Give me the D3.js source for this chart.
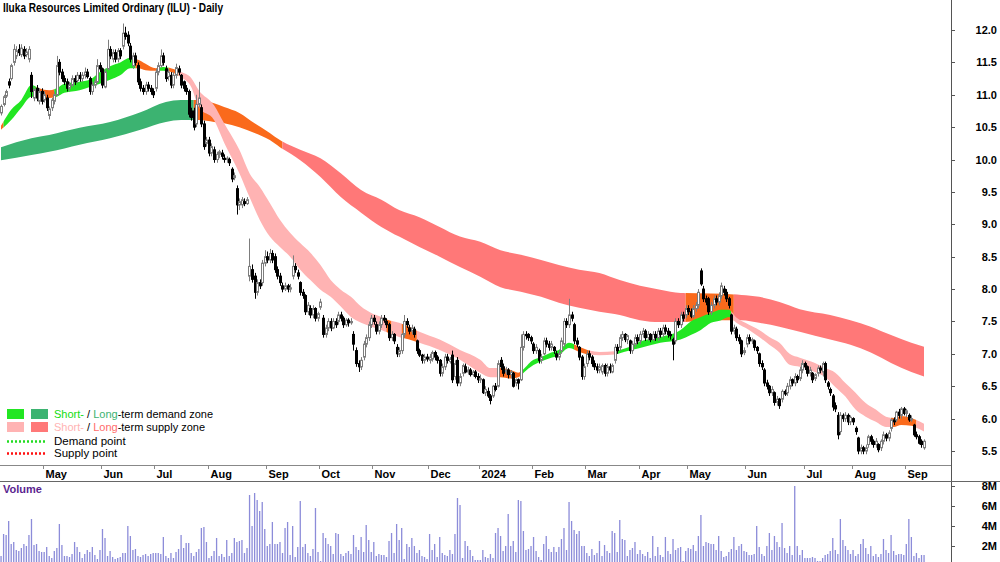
<!DOCTYPE html>
<html>
<head>
<meta charset="utf-8">
<script src="https://cdn.jsdelivr.net/npm/d3@7"></script>
<style>
body { margin:0; background:#fff; }
text { font-family: "Liberation Sans", Arial, sans-serif; }
</style>
</head>
<body>
<div class="container"></div>
<script>
const wd = 1000
const ht = 562

// daily candles [open, high, low, close]
const candles = [
[10.72,10.85,10.68,10.82],[10.85,11.0,10.82,10.97],[10.98,11.08,10.95,11.05],[11.2,11.25,11.1,11.15],[11.25,11.48,11.22,11.45],[11.5,11.78,11.45,11.7],[11.6,11.75,11.55,11.68],[11.7,11.78,11.6,11.65],[11.62,11.78,11.58,11.72],[11.7,11.75,11.55,11.6],
[11.62,11.72,11.58,11.66],[11.55,11.75,11.5,11.7],[11.3,11.35,10.95,11.05],[10.95,11.12,10.9,11.08],[11.1,11.15,10.9,10.95],[10.9,11.1,10.85,11.05],[11.05,11.1,10.85,10.9],[10.92,11.05,10.88,11.0],[10.95,11.0,10.75,10.8],[10.68,10.82,10.62,10.78],
[10.8,10.95,10.75,10.92],[10.9,11.05,10.85,11.0],[11.0,11.6,10.98,11.45],[11.5,11.55,11.3,11.35],[11.35,11.4,11.2,11.25],[11.25,11.3,11.15,11.2],[11.2,11.25,11.05,11.1],[11.1,11.2,11.05,11.15],[11.15,11.3,11.12,11.25],[11.25,11.3,11.15,11.2],
[11.22,11.35,11.18,11.3],[11.3,11.35,11.2,11.25],[11.25,11.35,11.2,11.3],[11.3,11.42,11.25,11.35],[11.35,11.4,11.25,11.28],[11.25,11.28,11.0,11.05],[11.05,11.2,11.0,11.15],[11.15,11.25,11.1,11.2],[11.2,11.55,11.18,11.45],[11.45,11.5,11.35,11.4],
[11.4,11.42,11.1,11.15],[11.12,11.4,11.1,11.35],[11.4,11.85,11.38,11.7],[11.7,11.75,11.55,11.6],[11.55,11.7,11.5,11.65],[11.65,11.7,11.5,11.55],[11.55,11.72,11.5,11.68],[11.68,11.72,11.55,11.6],[11.75,12.1,11.7,11.95],[11.95,12.05,11.85,11.9],
[11.92,11.98,11.75,11.8],[11.75,11.8,11.5,11.55],[11.45,11.65,11.4,11.6],[11.6,11.65,11.45,11.5],[11.45,11.5,11.15,11.2],[11.2,11.25,11.05,11.1],[11.1,11.15,11.0,11.05],[11.05,11.2,11.0,11.15],[11.15,11.2,11.05,11.1],[11.1,11.15,11.0,11.05],
[11.05,11.1,10.95,11.0],[11.1,11.4,11.05,11.35],[11.35,11.5,11.3,11.45],[11.45,11.7,11.42,11.6],[11.6,11.65,11.45,11.5],[11.4,11.45,11.2,11.25],[11.28,11.4,11.22,11.35],[11.3,11.35,11.1,11.15],[11.15,11.35,11.1,11.3],[11.3,11.48,11.25,11.42],
[11.4,11.45,11.3,11.35],[11.3,11.32,11.1,11.15],[11.2,11.22,11.05,11.1],[11.1,11.15,11.0,11.05],[11.05,11.08,10.65,10.7],[10.75,10.8,10.6,10.65],[10.75,10.8,10.45,10.5],[10.55,11.0,10.5,10.85],[10.85,11.2,10.8,10.95],[10.8,10.85,10.5,10.55],
[10.55,10.6,10.15,10.2],[10.25,10.35,10.2,10.3],[10.3,10.35,10.05,10.1],[10.1,10.25,10.05,10.2],[10.15,10.2,9.95,10.0],[10.0,10.12,9.95,10.08],[10.08,10.15,10.02,10.12],[10.1,10.15,10.0,10.05],[10.02,10.08,9.95,10.0],[10.0,10.05,9.95,10.02],
[10.0,10.03,9.9,9.95],[9.85,9.88,9.65,9.7],[9.72,9.8,9.68,9.75],[9.55,9.6,9.15,9.3],[9.3,9.4,9.22,9.35],[9.3,9.42,9.25,9.38],[9.35,9.4,9.28,9.32],[9.32,9.42,9.3,9.38],[8.2,8.78,8.12,8.35],[8.3,8.38,8.1,8.15],
[8.2,8.25,7.85,7.95],[7.95,8.15,7.9,8.1],[8.1,8.15,8.0,8.05],[8.1,8.45,8.05,8.4],[8.4,8.6,8.35,8.5],[8.5,8.58,8.4,8.45],[8.45,8.62,8.4,8.55],[8.55,8.6,8.4,8.45],[8.5,8.55,8.25,8.3],[8.3,8.35,8.15,8.2],
[8.2,8.25,8.05,8.1],[8.05,8.1,7.95,8.0],[8.0,8.1,7.97,8.05],[8.05,8.08,7.95,8.0],[8.0,8.08,7.95,8.02],[8.2,8.52,8.15,8.35],[8.35,8.4,8.25,8.3],[8.25,8.3,8.15,8.2],[8.1,8.12,7.9,7.95],[7.95,8.0,7.85,7.9],
[7.9,7.92,7.6,7.65],[7.65,7.8,7.6,7.75],[7.7,7.75,7.55,7.6],[7.6,7.75,7.55,7.7],[7.7,7.72,7.5,7.55],[7.55,7.65,7.5,7.62],[7.72,7.85,7.68,7.8],[7.55,7.6,7.25,7.3],[7.3,7.45,7.25,7.4],[7.4,7.55,7.35,7.5],
[7.5,7.55,7.35,7.4],[7.4,7.55,7.38,7.5],[7.5,7.55,7.4,7.45],[7.5,7.65,7.45,7.6],[7.6,7.65,7.5,7.55],[7.55,7.58,7.4,7.45],[7.45,7.55,7.42,7.52],[7.52,7.55,7.42,7.48],[7.48,7.55,7.45,7.5],[7.3,7.35,7.05,7.15],
[7.05,7.1,6.8,6.85],[6.85,6.9,6.72,6.8],[6.8,6.95,6.75,6.9],[6.95,7.2,6.9,7.15],[7.15,7.3,7.1,7.25],[7.25,7.5,7.2,7.45],[7.45,7.6,7.4,7.55],[7.55,7.6,7.45,7.5],[7.45,7.5,7.3,7.35],[7.35,7.5,7.3,7.45],
[7.45,7.6,7.4,7.55],[7.55,7.6,7.48,7.52],[7.5,7.55,7.4,7.45],[7.45,7.48,7.2,7.25],[7.25,7.35,7.2,7.3],[7.3,7.32,7.15,7.2],[7.1,7.15,6.95,7.0],[7.0,7.1,6.95,7.05],[7.05,7.32,7.0,7.3],[7.3,7.6,7.25,7.5],
[7.5,7.55,7.4,7.45],[7.4,7.45,7.3,7.35],[7.35,7.45,7.3,7.4],[7.38,7.42,7.25,7.3],[7.2,7.22,7.0,7.05],[7.05,7.08,6.95,6.98],[6.98,7.0,6.85,6.9],[6.9,7.0,6.85,6.95],[6.95,7.0,6.88,6.92],[6.9,7.0,6.85,6.95],
[6.92,7.05,6.88,7.02],[7.02,7.05,6.9,6.95],[6.95,6.98,6.85,6.9],[6.9,6.92,6.65,6.7],[6.7,6.85,6.65,6.8],[6.8,7.0,6.75,6.95],[6.95,7.0,6.85,6.9],[6.88,6.95,6.85,6.92],[6.98,7.05,6.55,6.6],[6.65,6.9,6.6,6.85],
[6.9,6.95,6.5,6.55],[6.55,6.7,6.5,6.65],[6.7,6.85,6.65,6.82],[6.8,6.85,6.7,6.72],[6.72,6.8,6.68,6.75],[6.75,6.78,6.65,6.68],[6.68,6.75,6.65,6.72],[6.72,6.75,6.62,6.65],[6.65,6.7,6.55,6.6],[6.6,6.68,6.55,6.62],
[6.6,6.62,6.38,6.4],[6.4,6.5,6.35,6.45],[6.42,6.48,6.32,6.35],[6.35,6.38,6.22,6.28],[6.35,6.52,6.32,6.5],[6.5,6.55,6.42,6.45],[6.5,6.9,6.48,6.85],[6.9,6.95,6.75,6.8],[6.8,6.85,6.65,6.7],[6.72,6.8,6.68,6.75],
[6.75,6.78,6.62,6.68],[6.68,6.75,6.62,6.72],[6.7,6.72,6.48,6.5],[6.55,6.62,6.5,6.6],[6.6,6.62,6.45,6.55],[6.6,7.3,6.58,7.1],[7.1,7.35,7.05,7.3],[7.3,7.35,7.22,7.28],[7.3,7.32,7.2,7.25],[7.25,7.28,7.15,7.2],
[7.15,7.18,7.0,7.05],[7.05,7.15,7.0,7.1],[7.05,7.08,6.85,6.9],[6.9,7.0,6.85,6.95],[7.0,7.25,6.98,7.2],[7.2,7.25,7.1,7.15],[7.15,7.2,7.05,7.1],[7.1,7.2,7.05,7.15],[7.1,7.12,7.0,7.05],[7.0,7.05,6.9,6.95],
[6.95,7.05,6.9,7.0],[7.05,7.25,7.0,7.2],[7.15,7.55,7.1,7.5],[7.5,7.55,7.4,7.45],[7.45,7.85,7.4,7.6],[7.6,7.65,7.5,7.55],[7.45,7.48,7.15,7.2],[7.2,7.25,7.1,7.15],[7.1,7.12,6.9,6.95],[6.95,6.98,6.6,6.65],
[6.65,6.85,6.6,6.8],[6.85,7.05,6.8,7.0],[7.0,7.05,6.9,6.95],[6.95,6.98,6.8,6.85],[6.85,6.9,6.75,6.8],[6.8,6.85,6.7,6.75],[6.75,6.85,6.7,6.8],[6.72,6.85,6.68,6.82],[6.82,6.85,6.65,6.7],[6.7,6.85,6.65,6.8],
[6.8,6.85,6.7,6.75],[6.72,6.85,6.7,6.82],[6.9,7.15,6.85,7.1],[7.1,7.15,7.0,7.05],[7.1,7.3,7.05,7.25],[7.25,7.35,7.2,7.3],[7.3,7.32,7.18,7.22],[7.22,7.3,7.15,7.28],[7.2,7.22,7.0,7.05],[7.05,7.2,7.0,7.15],
[7.15,7.3,7.1,7.25],[7.25,7.3,7.15,7.2],[7.2,7.35,7.15,7.3],[7.3,7.4,7.25,7.35],[7.35,7.38,7.2,7.25],[7.25,7.35,7.2,7.3],[7.3,7.32,7.18,7.22],[7.22,7.35,7.2,7.3],[7.3,7.35,7.2,7.25],[7.25,7.4,7.2,7.35],
[7.35,7.4,7.25,7.3],[7.3,7.45,7.25,7.4],[7.4,7.45,7.3,7.35],[7.35,7.4,7.25,7.3],[7.3,7.35,7.22,7.28],[7.22,7.25,6.9,7.15],[7.2,7.55,7.15,7.5],[7.5,7.55,7.4,7.45],[7.45,7.65,7.4,7.6],[7.6,7.65,7.5,7.55],
[7.6,7.75,7.55,7.7],[7.7,7.75,7.6,7.65],[7.65,7.7,7.55,7.58],[7.58,7.75,7.55,7.7],[7.7,7.8,7.65,7.75],[7.75,8.0,7.7,7.95],[8.28,8.32,8.05,8.08],[8.0,8.05,7.8,7.85],[7.85,7.9,7.75,7.8],[7.85,7.88,7.6,7.65],
[7.65,7.8,7.6,7.75],[7.75,7.9,7.7,7.85],[7.85,7.9,7.75,7.8],[7.8,7.95,7.75,7.9],[7.9,8.1,7.85,8.05],[8.0,8.05,7.9,7.95],[7.95,8.0,7.8,7.85],[7.85,7.88,7.7,7.75],[7.6,7.62,7.3,7.35],[7.35,7.45,7.3,7.4],
[7.38,7.42,7.2,7.25],[7.25,7.3,7.15,7.2],[7.2,7.22,6.95,7.0],[7.02,7.1,6.98,7.05],[7.15,7.3,7.1,7.25],[7.25,7.3,7.15,7.2],[7.2,7.25,7.15,7.22],[7.2,7.22,7.05,7.1],[7.1,7.12,7.0,7.05],[7.0,7.02,6.8,6.85],
[6.85,6.9,6.75,6.8],[6.75,6.78,6.5,6.55],[6.55,6.6,6.45,6.5],[6.5,6.52,6.35,6.4],[6.4,6.5,6.35,6.45],[6.4,6.42,6.2,6.25],[6.25,6.35,6.2,6.3],[6.3,6.32,6.15,6.2],[6.3,6.45,6.25,6.42],[6.42,6.45,6.35,6.38],
[6.4,6.55,6.35,6.5],[6.5,6.65,6.45,6.6],[6.6,6.62,6.5,6.55],[6.55,6.7,6.5,6.65],[6.65,6.68,6.55,6.6],[6.62,6.8,6.58,6.75],[6.75,6.9,6.7,6.85],[6.85,6.88,6.75,6.8],[6.8,6.82,6.65,6.7],[6.7,6.8,6.65,6.75],
[6.7,6.72,6.55,6.6],[6.62,6.7,6.58,6.68],[6.7,6.82,6.65,6.78],[6.78,6.82,6.7,6.75],[6.72,6.88,6.65,6.85],[6.85,6.88,6.55,6.6],[6.55,6.58,6.45,6.5],[6.45,6.48,6.35,6.4],[6.35,6.38,6.12,6.18],[6.2,6.25,6.1,6.15],
[6.05,6.1,5.68,5.75],[5.8,6.1,5.75,6.05],[6.05,6.08,5.95,6.0],[6.0,6.1,5.95,6.05],[6.05,6.08,5.9,5.95],[5.95,6.05,5.9,6.02],[6.0,6.02,5.9,5.95],[5.85,5.88,5.75,5.8],[5.7,5.72,5.45,5.5],[5.5,5.6,5.45,5.55],
[5.55,5.58,5.45,5.5],[5.5,5.6,5.45,5.55],[5.6,5.75,5.55,5.72],[5.72,5.75,5.6,5.65],[5.65,5.68,5.55,5.6],[5.6,5.7,5.55,5.65],[5.6,5.62,5.48,5.52],[5.55,5.68,5.5,5.65],[5.65,5.8,5.6,5.75],[5.75,5.78,5.65,5.7],
[5.7,5.82,5.65,5.78],[5.85,6.0,5.8,5.98],[5.98,6.02,5.9,5.95],[5.98,6.12,5.95,6.1],[6.1,6.15,6.0,6.05],[6.05,6.18,6.0,6.15],[6.15,6.18,6.05,6.08],[6.08,6.15,6.02,6.12],[6.05,6.08,5.95,5.98],[5.98,6.05,5.95,6.0],
[5.9,5.92,5.72,5.75],[5.75,5.8,5.68,5.72],[5.72,5.75,5.6,5.62],[5.65,5.68,5.55,5.6],[5.55,5.68,5.52,5.65]
]

// daily volume, millions
const volumes = [
1.0,3.2,3.1,4.5,2.2,2.4,1.6,1.5,1.8,2.2, 2.0,3.1,4.7,2.1,2.2,1.5,1.4,1.4,1.9,1.0,
0.8,1.5,1.8,4.2,2.1,1.0,1.0,0.9,1.2,2.4, 1.9,1.4,0.8,1.2,1.6,1.4,1.9,1.1,0.7,1.6,
3.7,2.8,1.0,1.5,0.9,0.7,0.8,0.9,1.3,1.3, 4.0,3.0,1.6,1.7,1.0,0.9,1.1,1.2,1.0,1.2,
1.3,1.3,1.3,1.2,2.9,1.0,0.8,1.3,0.8,1.4, 1.7,3.1,1.8,2.3,2.3,1.3,1.0,1.4,1.7,3.8,
3.9,2.4,0.8,1.0,1.5,2.8,1.0,1.2,0.9,2.6, 1.0,1.3,2.8,2.4,2.5,2.6,1.3,1.8,7.1,4.0,
7.3,6.6,5.5,6.4,3.7,2.0,2.2,4.4,2.2,2.2, 2.4,1.3,3.8,4.4,1.1,4.0,0.9,1.9,6.5,1.9,
2.2,1.3,1.0,1.7,5.8,1.4,0.5,3.3,2.8,2.2, 2.0,1.2,3.3,3.2,1.2,1.0,1.3,1.5,1.2,3.1,
1.9,1.6,2.9,1.4,4.1,2.6,1.4,2.4,1.0,1.2, 1.1,1.1,0.9,2.5,3.3,1.3,4.2,2.6,3.8,0.7,
2.2,1.9,2.8,2.0,1.3,1.6,1.0,0.9,0.7,3.2, 1.6,2.2,0.9,2.9,1.3,1.1,1.0,1.6,1.2,3.2,
6.8,6.1,0.8,2.5,2.0,1.6,1.0,0.6,0.6,0.6, 1.6,0.9,0.8,1.2,0.8,3.3,3.8,3.0,1.5,2.0,
5.2,2.0,2.5,1.4,6.6,6.5,3.5,1.6,1.7,2.0, 2.9,1.5,0.9,0.6,2.2,3.0,1.7,1.4,1.9,1.4,
1.9,2.7,3.8,1.6,6.4,4.5,3.6,3.2,3.5,2.0, 2.0,1.3,1.0,1.7,1.1,1.3,2.5,1.0,2.1,1.5,
1.3,3.5,3.3,1.4,4.6,2.7,2.6,1.0,1.6,1.8, 2.4,1.2,1.6,1.2,1.0,1.4,0.8,3.0,1.0,1.9,
1.1,0.9,2.9,1.5,1.2,2.7,1.6,1.8,1.9,0.5, 1.5,1.8,1.7,2.1,1.5,3.0,5.1,2.0,2.4,2.3,
2.2,2.2,1.6,3.0,1.5,0.9,1.0,1.4,1.7,2.9, 1.6,2.0,2.2,1.5,1.4,1.1,1.1,1.2,4.0,1.9,
1.2,1.0,2.0,3.3,1.6,3.0,2.4,1.9,4.3,1.8, 1.3,2.0,1.1,8.0,2.0,1.1,1.6,0.8,0.8,0.8,
0.9,0.8,0.5,0.5,0.8,1.1,1.2,1.5,2.8,1.6, 1.2,4.7,2.6,2.0,1.6,1.2,1.6,1.0,1.2,2.2,
2.7,1.8,1.2,2.0,1.0,1.2,0.9,1.2,2.7,1.6, 1.3,3.1,1.5,1.1,1.2,1.2,1.1,2.2,4.7,2.9,
1.0,1.3,0.8,1.1,1.1
]

// first trading day (candle index) of each month
const monthStarts = [17, 40, 61, 82, 105, 126, 147, 169, 189, 210, 231, 252, 271, 294, 317, 336, 357]
const monthLabels = ["May","Jun","Jul","Aug","Sep","Oct","Nov","Dec","2024","Feb","Mar","Apr","May","Jun","Jul","Aug","Sep"]

const priceTicks = [5.5, 6.0, 6.5, 7.0, 7.5, 8.0, 8.5, 9.0, 9.5, 10.0, 10.5, 11.0, 11.5, 12.0]
const volTicks = [2, 4, 6, 8]

// short-term zone edges
const shortIdx = [0,4,8,12,15,19,22,25,31,35,39,43,47,51,54,57,61,64,67,71,75,78,84,88,94,98,102,106,110,114,118,122,126,130,134,138,142,146,150,153,157,161,165,173,181,189,193,197,201,204,207,209,213,217,220,224,228,232,236,242,244,248,252,260,268,272,276,280,284,287,290,295,299,303,307,311,315,321,325,329,333,337,341,345,349,352,355,359,361,364]
const shortHi = [10.52,10.77,10.92,11.15,11.10,11.07,11.10,11.17,11.20,11.23,11.35,11.44,11.50,11.57,11.54,11.48,11.41,11.43,11.41,11.35,11.26,11.07,10.84,10.56,10.15,9.79,9.58,9.33,9.07,8.87,8.71,8.56,8.37,8.14,7.99,7.88,7.73,7.63,7.57,7.52,7.48,7.42,7.34,7.22,7.06,6.91,6.78,6.78,6.75,6.71,6.80,6.88,6.95,7.02,7.06,7.17,7.11,7.05,7.03,7.04,7.06,7.11,7.19,7.26,7.37,7.50,7.57,7.63,7.68,7.68,7.56,7.45,7.37,7.26,7.17,7.00,6.94,6.86,6.78,6.71,6.55,6.40,6.24,6.14,6.03,6.01,6.04,6.01,5.98,5.92]
const shortLo = [10.46,10.61,10.80,10.97,10.95,10.95,10.97,11.03,11.07,11.12,11.17,11.23,11.30,11.41,11.41,11.38,11.37,11.37,11.35,11.27,11.12,10.81,10.61,10.26,9.79,9.42,9.07,8.81,8.65,8.50,8.30,8.14,7.99,7.88,7.73,7.57,7.48,7.42,7.37,7.32,7.26,7.22,7.17,7.06,6.91,6.71,6.64,6.64,6.62,6.64,6.74,6.80,6.88,6.94,6.98,7.09,7.03,6.99,6.98,6.99,7.01,7.05,7.09,7.17,7.22,7.29,7.37,7.48,7.52,7.57,7.48,7.37,7.26,7.14,7.02,6.83,6.80,6.72,6.64,6.49,6.34,6.14,6.03,5.95,5.87,5.87,5.90,5.89,5.86,5.80]

// long-term zone edges
const longIdx = [0,12,19,31,43,55,65,71,78,84,88,94,100,106,110,118,126,134,142,150,157,165,173,181,189,197,205,213,220,228,236,244,252,260,268,280,292,299,307,315,327,335,343,351,359,364]
const longHi = [10.19,10.33,10.38,10.49,10.58,10.73,10.89,10.92,10.92,10.87,10.81,10.72,10.56,10.41,10.30,10.15,10.02,9.79,9.53,9.38,9.22,9.11,8.96,8.81,8.73,8.60,8.53,8.45,8.37,8.30,8.25,8.14,8.05,7.99,7.94,7.93,7.91,7.88,7.80,7.69,7.60,7.52,7.42,7.29,7.17,7.11]
const longLo = [9.99,10.07,10.12,10.23,10.33,10.46,10.58,10.61,10.61,10.58,10.56,10.50,10.41,10.30,10.19,9.99,9.73,9.42,9.18,8.96,8.81,8.65,8.50,8.34,8.19,8.03,7.96,7.88,7.79,7.71,7.65,7.60,7.52,7.49,7.49,7.52,7.52,7.48,7.42,7.34,7.22,7.14,7.02,6.86,6.72,6.65]

// zone state by candle range: demand / supply / mixed
const shortZones = [[0,1,"mixed"],[1,14,"demand"],[14,21,"mixed"],[21,53,"demand"],[53,62,"mixed"],[62,66,"demand"],[66,70,"mixed"],[70,152,"supply"],[152,154,"mixed"],[154,158,"supply"],[158,164,"mixed"],[164,196,"supply"],[196,205,"mixed"],[205,226,"demand"],[226,232,"mixed"],[232,243,"supply"],[243,288,"demand"],[288,351,"supply"],[351,361,"mixed"],[361,365,"supply"]]
const longZones = [[0,76,"demand"],[76,111,"mixed"],[111,270,"supply"],[270,289,"mixed"],[289,365,"supply"]]

const shortCol = {demand:"#22e622", supply:"#ffb3b3", mixed:"#fa6a1c"}
const longCol = {demand:"#3cb371", supply:"#ff7878", mixed:"#fa6a1c"}

const axisX = 951
const priceBottom = 465
const volTop = 481

const x = d3.scaleLinear().domain([0, candles.length - 1]).range([1, 924])
const y = d3.scaleLinear().domain([5.5, 12]).range([451, 30])
const yv = d3.scaleLinear().domain([0, 8]).range([566, 486])

const svg = d3.select(".container").append("svg")
  .attr("width", wd)
  .attr("height", ht)
  .style("display", "block")

const defs = svg.append("defs")
defs.append("clipPath").attr("id", "priceClip")
  .append("rect").attr("x", 0).attr("y", 0).attr("width", axisX).attr("height", priceBottom)
defs.append("clipPath").attr("id", "volClip")
  .append("rect").attr("x", 0).attr("y", volTop + 1).attr("width", axisX).attr("height", ht - volTop)

const bandArea = d3.area()
  .x(d => x(d.i))
  .y0(d => y(d.lo))
  .y1(d => y(d.hi))
  .curve(d3.curveMonotoneX)

function drawBand(name, idx, hi, lo, zones, cols) {
  let pts = idx.map((v, k) => ({i: v, hi: hi[k], lo: lo[k]}))
  let g = svg.append("g").attr("clip-path", "url(#priceClip)")
  zones.forEach((z, k) => {
    let id = name + "Clip" + k
    let x0 = z[0] === 0 ? -2 : x(z[0])
    let x1 = z[1] >= candles.length ? wd : x(z[1])
    defs.append("clipPath").attr("id", id)
      .append("rect").attr("x", x0).attr("y", 0).attr("width", x1 - x0).attr("height", ht)
    g.append("path")
      .attr("d", bandArea(pts))
      .attr("fill", cols[z[2]])
      .attr("clip-path", "url(#" + id + ")")
  })
}

drawBand("long", longIdx, longHi, longLo, longZones, longCol)
drawBand("short", shortIdx, shortHi, shortLo, shortZones, shortCol)

// candles
const cg = svg.append("g").attr("clip-path", "url(#priceClip)")
candles.forEach((d, i) => {
  let up = d[3] >= d[0]
  let col = up ? "#7d7d7d" : "#000"
  let cx = Math.round(x(i)) + 0.5
  cg.append("line")
    .attr("x1", cx).attr("x2", cx)
    .attr("y1", y(d[1])).attr("y2", y(d[2]))
    .attr("stroke", col)
    .attr("stroke-width", 1)
  let top = y(Math.max(d[0], d[3]))
  let bot = y(Math.min(d[0], d[3]))
  cg.append("rect")
    .attr("x", cx - 1)
    .attr("y", top)
    .attr("width", 2)
    .attr("height", Math.max(1, bot - top))
    .attr("fill", up ? "#fff" : "#000")
    .attr("stroke", col)
    .attr("stroke-width", 1)
})

// volume bars
svg.append("g").attr("clip-path", "url(#volClip)")
  .selectAll("rect")
  .data(volumes)
  .enter()
  .append("rect")
  .attr("x", (d, i) => x(i) - 0.6)
  .attr("y", d => yv(d))
  .attr("width", 1.3)
  .attr("height", d => yv(0) - yv(d))
  .attr("fill", "#8c8cd9")

// frame lines
svg.append("line").attr("x1", axisX + 0.5).attr("x2", axisX + 0.5).attr("y1", 0).attr("y2", ht)
  .attr("stroke", "#555").attr("stroke-width", 1)
svg.append("line").attr("x1", 0).attr("x2", axisX).attr("y1", priceBottom + 0.5).attr("y2", priceBottom + 0.5)
  .attr("stroke", "#888").attr("stroke-width", 1)
svg.append("line").attr("x1", 0).attr("x2", wd).attr("y1", volTop + 0.5).attr("y2", volTop + 0.5)
  .attr("stroke", "#666").attr("stroke-width", 1)

// month axis
const mg = svg.append("g")
monthStarts.forEach((m, k) => {
  let tx = Math.round(x(m - 0.5)) + 0.5
  mg.append("line").attr("x1", tx).attr("x2", tx).attr("y1", priceBottom).attr("y2", priceBottom + 4)
    .attr("stroke", "#888")
  mg.append("text")
    .attr("x", tx + 2)
    .attr("y", 478)
    .attr("font-size", "11px")
    .attr("font-weight", "bold")
    .attr("fill", "#000")
    .text(monthLabels[k])
})

// right price axis
const pg = svg.append("g")
priceTicks.forEach(p => {
  pg.append("line").attr("x1", axisX).attr("x2", axisX + 4).attr("y1", Math.round(y(p)) + 0.5).attr("y2", Math.round(y(p)) + 0.5)
    .attr("stroke", "#555")
  pg.append("text")
    .attr("x", 997)
    .attr("y", y(p) + 4)
    .attr("text-anchor", "end")
    .attr("font-size", "11px")
    .attr("font-weight", "bold")
    .text(p.toFixed(1))
})
volTicks.forEach(v => {
  pg.append("line").attr("x1", axisX).attr("x2", axisX + 4).attr("y1", Math.round(yv(v)) + 0.5).attr("y2", Math.round(yv(v)) + 0.5)
    .attr("stroke", "#555")
  pg.append("text")
    .attr("x", 997)
    .attr("y", yv(v) + 4)
    .attr("text-anchor", "end")
    .attr("font-size", "11px")
    .attr("font-weight", "bold")
    .text(v + "M")
})

// titles
svg.append("text")
  .attr("x", 3).attr("y", 12)
  .attr("font-size", "12px")
  .attr("font-weight", "bold")
  .attr("textLength", 220)
  .attr("lengthAdjust", "spacingAndGlyphs")
  .text("Iluka Resources Limited Ordinary (ILU) - Daily")

svg.append("text")
  .attr("x", 3).attr("y", 493)
  .attr("font-size", "11px")
  .attr("font-weight", "bold")
  .attr("fill", "#5b1f8f")
  .text("Volume")

// legend
const lg = svg.append("g")
lg.append("rect").attr("x", 7).attr("y", 409).attr("width", 17).attr("height", 10).attr("fill", shortCol.demand)
lg.append("rect").attr("x", 31).attr("y", 409).attr("width", 17).attr("height", 10).attr("fill", longCol.demand)
lg.append("rect").attr("x", 7).attr("y", 422).attr("width", 17).attr("height", 10).attr("fill", shortCol.supply)
lg.append("rect").attr("x", 31).attr("y", 422).attr("width", 17).attr("height", 10).attr("fill", longCol.supply)
lg.append("line").attr("x1", 7).attr("x2", 45).attr("y1", 441.5).attr("y2", 441.5)
  .attr("stroke", "#22dd22").attr("stroke-width", 2.5).attr("stroke-dasharray", "2,2")
lg.append("line").attr("x1", 7).attr("x2", 45).attr("y1", 453.5).attr("y2", 453.5)
  .attr("stroke", "#ff1010").attr("stroke-width", 2.5).attr("stroke-dasharray", "2,2")

let t1 = lg.append("text").attr("x", 54).attr("y", 418).attr("font-size", "11px")
t1.append("tspan").attr("fill", "#11dd11").text("Short-")
t1.append("tspan").attr("fill", "#000").text(" / ")
t1.append("tspan").attr("fill", "#3cb371").text("Long")
t1.append("tspan").attr("fill", "#000").text("-term demand zone")

let t2 = lg.append("text").attr("x", 54).attr("y", 431).attr("font-size", "11px")
t2.append("tspan").attr("fill", "#ffb3b3").text("Short-")
t2.append("tspan").attr("fill", "#000").text(" / ")
t2.append("tspan").attr("fill", "#ff6b6b").text("Long")
t2.append("tspan").attr("fill", "#000").text("-term supply zone")

lg.append("text").attr("x", 54).attr("y", 445).attr("font-size", "11.5px").text("Demand point")
lg.append("text").attr("x", 54).attr("y", 457).attr("font-size", "11.5px").text("Supply point")
</script>
</body>
</html>
